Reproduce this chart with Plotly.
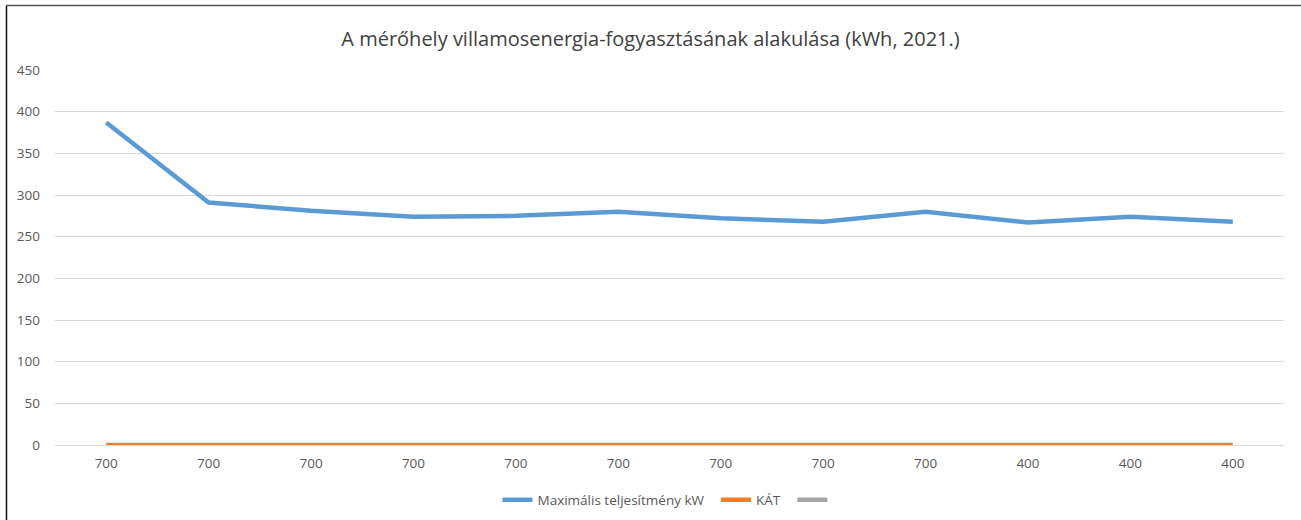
import plotly.graph_objects as go

categories = ["700", "700", "700", "700", "700", "700", "700", "700", "700", "400", "400", "400"]
max_power_kw = [387, 291, 281, 274, 275, 280, 272, 268, 280, 267, 274, 268]
kat_values = [0, 0, 0, 0, 0, 0, 0, 0, 0, 0, 0, 0]
third_values = [None] * 12

x_idx = list(range(len(categories)))

W, H = 1301, 520
ml, mr, mt, mb = 55, 17, 70, 75
pw = W - ml - mr
ph = H - mt - mb

fig = go.Figure()
fig.add_trace(go.Scatter(x=x_idx, y=max_power_kw, mode="lines",
                         name="Maximális teljesítmény kW  ",
                         line=dict(color="#5B9BD5", width=4.5)))
fig.add_trace(go.Scatter(x=x_idx, y=kat_values, mode="lines", name="KÁT  ",
                         line=dict(color="#ED7D31", width=4.5)))
fig.add_trace(go.Scatter(x=x_idx, y=third_values, mode="lines", name=" ",
                         line=dict(color="#A5A5A5", width=4.5)))

def px_x(p):
    return (p - ml) / pw

def px_y(p):
    return (H - mb - p) / ph

fig.update_layout(
    width=W, height=H,
    margin=dict(l=ml, r=mr, t=mt, b=mb, pad=0),
    paper_bgcolor="white", plot_bgcolor="white",
    font=dict(family="Open Sans, DejaVu Sans, sans-serif", color="#595959", size=13.5),
    title=dict(text="A mérőhely villamosenergia-fogyasztásának alakulása (kWh, 2021.)",
               x=0.5, xanchor="center", y=1 - 39 / H, yanchor="middle",
               font=dict(size=20, color="#404040", family="Open Sans, sans-serif")),
    xaxis=dict(tickmode="array", tickvals=x_idx, ticktext=categories,
               range=[-0.5, len(categories) - 0.5], showgrid=False, zeroline=False,
               showline=False, ticks="outside", ticklen=6, tickcolor="rgba(0,0,0,0)",
               tickfont=dict(size=13.5, color="#595959"), automargin=False),
    yaxis=dict(range=[0, 450], dtick=50, showgrid=True, gridcolor="#D9D9D9",
               gridwidth=1, zeroline=True, zerolinecolor="#D9D9D9", zerolinewidth=1,
               showline=False, ticks="", tickfont=dict(size=13.5, color="#595959"),
               ticksuffix="    ", automargin=False),
    legend=dict(orientation="h", x=0.5, xanchor="center",
                yref="container", y=1 - 500 / H, yanchor="middle",
                font=dict(size=13.5, color="#595959"),
                bgcolor="rgba(0,0,0,0)"),
    showlegend=True,
)

# chart frame (visible parts: left and top edges)
fig.add_shape(type="line", xref="paper", yref="paper",
              x0=px_x(6.5), x1=px_x(6.5), y0=px_y(5.5), y1=px_y(521),
              line=dict(color="#111111", width=1.5))
fig.add_shape(type="line", xref="paper", yref="paper",
              x0=px_x(6), x1=px_x(1302), y0=px_y(5.5), y1=px_y(5.5),
              line=dict(color="#555555", width=1.5))

fig.write_html("out.html", config={"displayModeBar": False},
               post_script="document.body.style.margin='0px';document.body.style.overflow='hidden';")
